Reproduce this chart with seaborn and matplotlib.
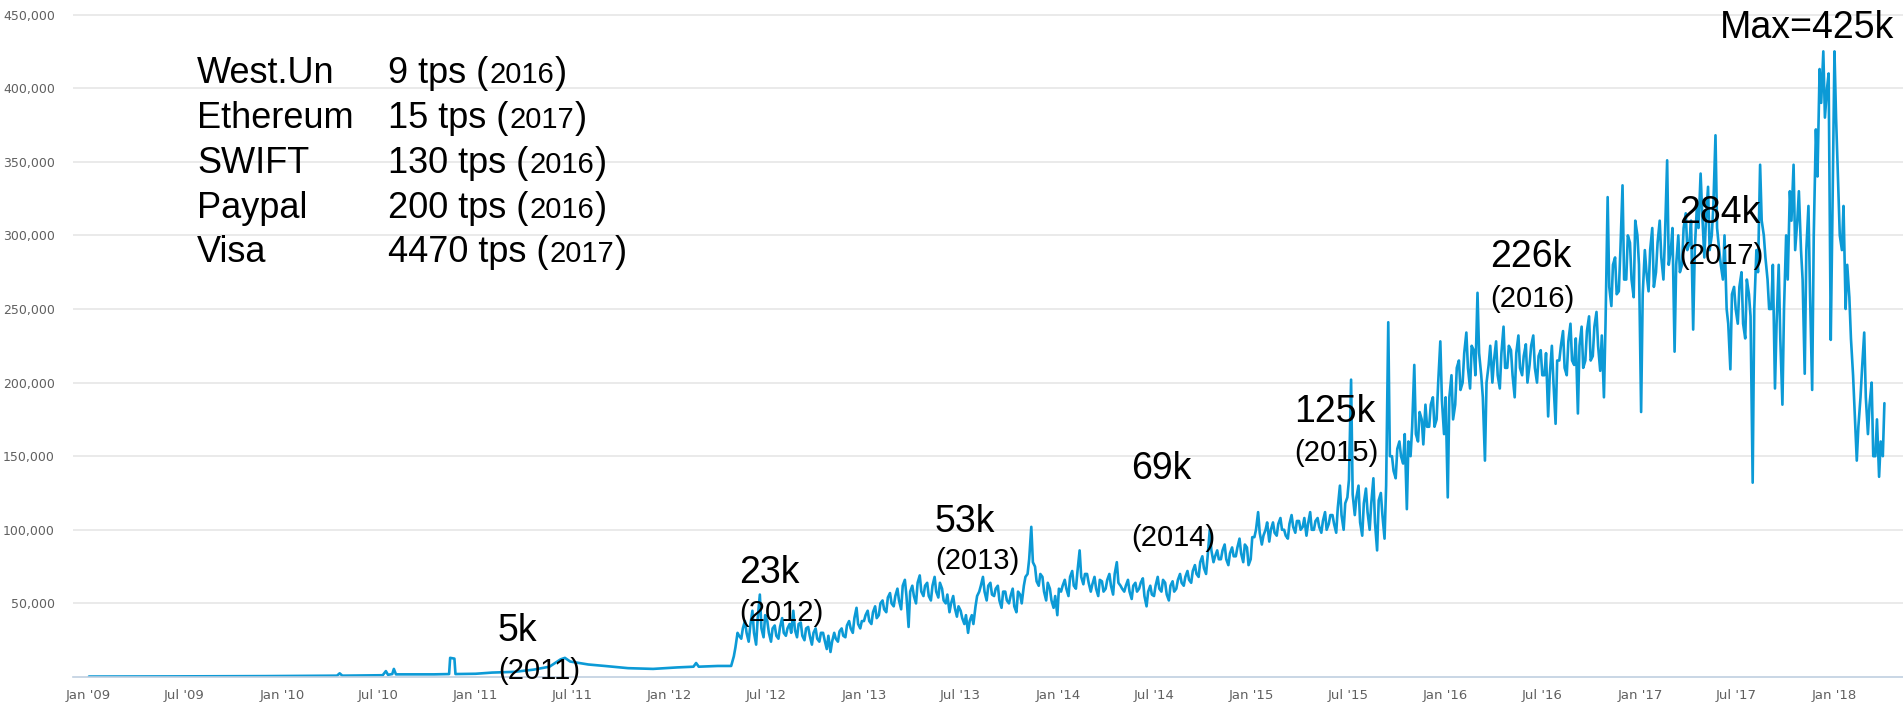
import matplotlib
matplotlib.use("Agg")
import matplotlib.dates as mdates
import matplotlib.pyplot as plt
import matplotlib.ticker as tkr
import pandas as pd
import seaborn as sns

# daily bitcoin transactions, thousands
# 2009 - spring 2012: nearly flat, read as breakpoints
early_dates = ["2009-01-03", "2009-06-01", "2009-12-01", "2010-04-15", "2010-04-20",
               "2010-04-25", "2010-07-10", "2010-07-16", "2010-07-20", "2010-07-28",
               "2010-07-31", "2010-08-04", "2010-10-15", "2010-11-12", "2010-11-14",
               "2010-11-22", "2010-11-24", "2011-01-01", "2011-02-01", "2011-03-15",
               "2011-04-20", "2011-05-20", "2011-06-10", "2011-06-18", "2011-06-28",
               "2011-07-15", "2011-08-01", "2011-09-01", "2011-10-15", "2011-12-01",
               "2012-01-15", "2012-02-15", "2012-02-20", "2012-02-25", "2012-04-01",
               "2012-04-26"]
early_k = [0.3, 0.4, 0.6, 0.9, 2.5,
           0.9, 1.2, 4.0, 1.5, 2.0,
           5.5, 1.8, 1.8, 2.0, 13.0,
           12.5, 2.0, 2.2, 3.0, 3.5,
           5.0, 7.0, 12.0, 13.0, 10.5,
           9.5, 8.5, 7.5, 6.0, 5.5,
           6.5, 7.0, 9.5, 7.0, 7.5,
           7.5]

# from May 2012: one reading early in each week ...
tx_2012 = [14, 30, 26, 38, 24,
           45, 22, 56, 27,
           38, 24, 35, 26, 40,
           28, 36, 45, 27,
           37, 25, 34, 22,
           33, 24, 30, 19, 17,
           30, 24, 33, 27,
           38, 30, 47, 33]
tx_2013 = [38, 45, 36, 48, 42,
           52, 44, 57, 48,
           60, 46, 66, 34,
           62, 50, 69, 55, 64,
           52, 68, 54, 60,
           50, 44, 55, 41,
           45, 36, 30, 42, 48,
           58, 68, 52, 64,
           55, 62, 47, 58,
           50, 60, 44, 56, 62,
           70, 102, 75, 62,
           68, 52, 60, 47, 42]
tx_2014 = [58, 66, 55, 72,
           60, 86, 63, 70,
           58, 68, 55, 65,
           60, 70, 56, 78, 62,
           58, 66, 53, 64,
           60, 67, 48, 62,
           55, 68, 58, 64, 52,
           65, 60, 70, 62,
           72, 64, 76, 68, 82,
           70, 100, 78, 86,
           80, 90, 76, 88,
           82, 94, 78, 88, 80]
tx_2015 = [95, 112, 90, 100,
           92, 105, 96, 108,
           100, 94, 110, 98, 106,
           102, 96, 112, 100,
           108, 98, 112, 104,
           110, 98, 130, 100, 122,
           202, 110, 130, 96,
           128, 100, 135, 86,
           125, 94, 241, 150, 135,
           160, 145, 114, 150,
           212, 160, 175, 185,
           170, 190, 175, 228, 165]
tx_2016 = [122, 205, 185, 215,
           200, 234, 196, 222,
           261, 205, 147, 212, 200,
           228, 196, 238, 210,
           222, 190, 232, 205, 226,
           212, 232, 200, 222,
           205, 177, 225, 172,
           215, 235, 205, 240, 212,
           179, 238, 215, 245,
           218, 248, 208, 190,
           326, 252, 285, 262, 334,
           270, 295, 258, 300]
tx_2017 = [180, 290, 262, 305, 275,
           310, 270, 351, 290,
           221, 300, 280, 315,
           295, 236, 320, 342,
           285, 333, 300, 368, 290,
           270, 250, 209, 265,
           240, 275, 230, 260,
           132, 290, 348, 300, 270,
           250, 196, 280, 185,
           300, 330, 348, 310, 290,
           206, 320, 195, 372,
           413, 425, 400, 229]
tx_2018 = [425, 335, 290, 250, 258,
           205, 147, 190, 234,
           165, 200, 150, 136,
           150]

# ... and one later in the same week
mid_2012 = [20, 28, 33, 30, 35,
            30, 40, 33, 42,
            30, 33, 28, 34, 30,
            33, 30, 32, 36,
            28, 33, 28, 30,
            26, 30, 25, 28, 24,
            26, 31, 28, 35,
            33, 40, 36, 38]
mid_2013 = [42, 38, 44, 40, 50,
            46, 54, 50, 55,
            52, 62, 55, 58,
            55, 64, 58, 62, 55,
            62, 58, 64, 52,
            56, 50, 47, 48,
            40, 42, 38, 36, 55,
            62, 58, 62, 56,
            60, 52, 58, 52,
            55, 48, 58, 50, 68,
            80, 78, 65, 70,
            58, 64, 52, 55, 60]
mid_2014 = [62, 60, 68, 62,
            72, 68, 70, 64,
            63, 60, 66, 58,
            66, 62, 70, 64, 60,
            62, 58, 62, 58,
            64, 55, 58, 56,
            62, 60, 66, 56, 62,
            58, 66, 64, 68,
            66, 72, 70, 78, 74,
            82, 86, 82, 80,
            86, 80, 84, 82,
            88, 84, 90, 76, 95]
mid_2015 = [100, 98, 96, 105,
            100, 98, 104, 100,
            96, 104, 102, 106, 100,
            108, 104, 100, 106,
            102, 106, 100, 110,
            104, 115, 110, 118, 134,
            124, 122, 105, 118,
            112, 118, 105, 120,
            110, 130, 150, 140, 155,
            150, 165, 160, 170,
            165, 180, 158, 170,
            185, 170, 200, 188, 190]
mid_2016 = [190, 175, 210, 195,
            220, 210, 225, 205,
            220, 190, 200, 225, 215,
            205, 220, 210, 225,
            205, 220, 210, 218, 200,
            225, 210, 218, 205,
            220, 205, 200, 215,
            225, 210, 228, 215, 230,
            225, 210, 235, 215,
            238, 225, 232, 240,
            265, 280, 260, 290, 270,
            300, 270, 310, 280]
mid_2017 = [260, 275, 290, 265, 295,
            285, 300, 280, 305,
            280, 275, 305, 290,
            310, 290, 305, 315,
            310, 290, 320, 305, 280,
            300, 240, 260, 250,
            265, 240, 270, 245,
            250, 275, 310, 285, 250,
            280, 240, 230, 250,
            270, 310, 290, 330, 270,
            290, 260, 300, 340,
            390, 380, 410, 310]
mid_2018 = [380, 300, 320, 280, 230,
            180, 170, 210, 190,
            185, 150, 175, 160,
            186]

weekly_starts = ["2012-05-01", "2013-01-01", "2014-01-07", "2015-01-06",
                 "2016-01-05", "2017-01-03", "2018-01-02"]
weekly_values = [tx_2012, tx_2013, tx_2014, tx_2015, tx_2016, tx_2017, tx_2018]
mid_values = [mid_2012, mid_2013, mid_2014, mid_2015, mid_2016, mid_2017, mid_2018]

# other networks, tps
net_names = ["West.Un", "Ethereum", "SWIFT", "Paypal", "Visa"]
net_tps = ["9", "15", "130", "200", "4470"]
net_years = ["2016", "2017", "2016", "2016", "2017"]

# yearly averages written on the chart
avg_labels = ["5k", "23k", "53k", "69k", "125k", "226k", "284k"]
avg_years = ["2011", "2012", "2013", "2014", "2015", "2016", "2017"]

frames = [pd.DataFrame({"date": pd.to_datetime(early_dates), "k": early_k})]
for start, vals, mids in zip(weekly_starts, weekly_values, mid_values):
    first = pd.date_range(start, periods=len(vals), freq="7D")
    frames.append(pd.DataFrame({"date": first, "k": vals}))
    frames.append(pd.DataFrame({"date": first + pd.Timedelta(days=3), "k": mids}))
df = pd.concat(frames, ignore_index=True).sort_values("date")
df["tx"] = df["k"] * 1000

sns.set_theme(style="white")
plt.rcParams["font.family"] = ["DejaVu Sans"]
SANS = ["Liberation Sans", "DejaVu Sans"]

W, H = 1903, 708
fig = plt.figure(figsize=(W / 100, H / 100), dpi=100)
fig.patch.set_facecolor("white")
ax = fig.add_axes([73 / W, 31 / H, (W - 73) / W, 677 / H])

sns.lineplot(data=df, x="date", y="tx", ax=ax, color="#0c9ad6", linewidth=1.9)

ax.set_xlim(pd.Timestamp("2008-12-04"), pd.Timestamp("2018-05-11"))
ax.set_ylim(0, 459900)
ax.yaxis.set_major_locator(tkr.FixedLocator(range(50000, 450001, 50000)))
ax.yaxis.set_major_formatter(tkr.FuncFormatter(lambda v, p: f"{int(v):,}"))
ax.xaxis.set_major_locator(mdates.MonthLocator(bymonth=[1, 7]))
ax.xaxis.set_major_formatter(mdates.DateFormatter("%b '%y"))
ax.grid(axis="y", color="#e6e6e6", linewidth=1.2)
ax.set_axisbelow(True)
ax.set_xlabel("")
ax.set_ylabel("")
for side in ["top", "right", "left"]:
    ax.spines[side].set_visible(False)
ax.spines["bottom"].set_color("#c0d0e0")
ax.spines["bottom"].set_linewidth(1.2)
ax.tick_params(axis="x", length=7, width=1, color="#c0d0e0", labelsize=9.5,
               labelcolor="#606060", pad=2)
ax.tick_params(axis="y", length=0, labelsize=9, labelcolor="#606060", pad=13)


def put(x, y, s, size):
    # x, y in pixels from the top-left corner, y is the baseline
    return fig.text(x / W, 1 - y / H, s, fontsize=size, ha="left", va="baseline",
                    family=SANS, color="black")


# averages per year
big_pos = [(498, 641), (739, 583), (935, 532), (1131, 479), (1294, 422), (1490, 267), (1679, 223)]
year_base = [679, 621, 569, 546, 461, 307, 264]
for (x, y), lab, yr, yb in zip(big_pos, avg_labels, avg_years, year_base):
    put(x, y, lab, 27)
    put(x, yb, "(" + yr + ")", 21)
put(1720, 38, "Max=425k", 27)

# comparison table
renderer = fig.canvas.get_renderer()
row_base = [83, 128, 173, 218, 262]
for name, tps, yr, yb in zip(net_names, net_tps, net_years, row_base):
    put(197, yb, name, 26)
    t = put(388, yb, tps + " tps (", 26)
    x1 = t.get_window_extent(renderer).x1
    t = put(x1 + 1, yb, yr, 21)
    x1 = t.get_window_extent(renderer).x1
    put(x1 + 1, yb, ")", 26)

fig.savefig("out.png", dpi=100, facecolor="white")
